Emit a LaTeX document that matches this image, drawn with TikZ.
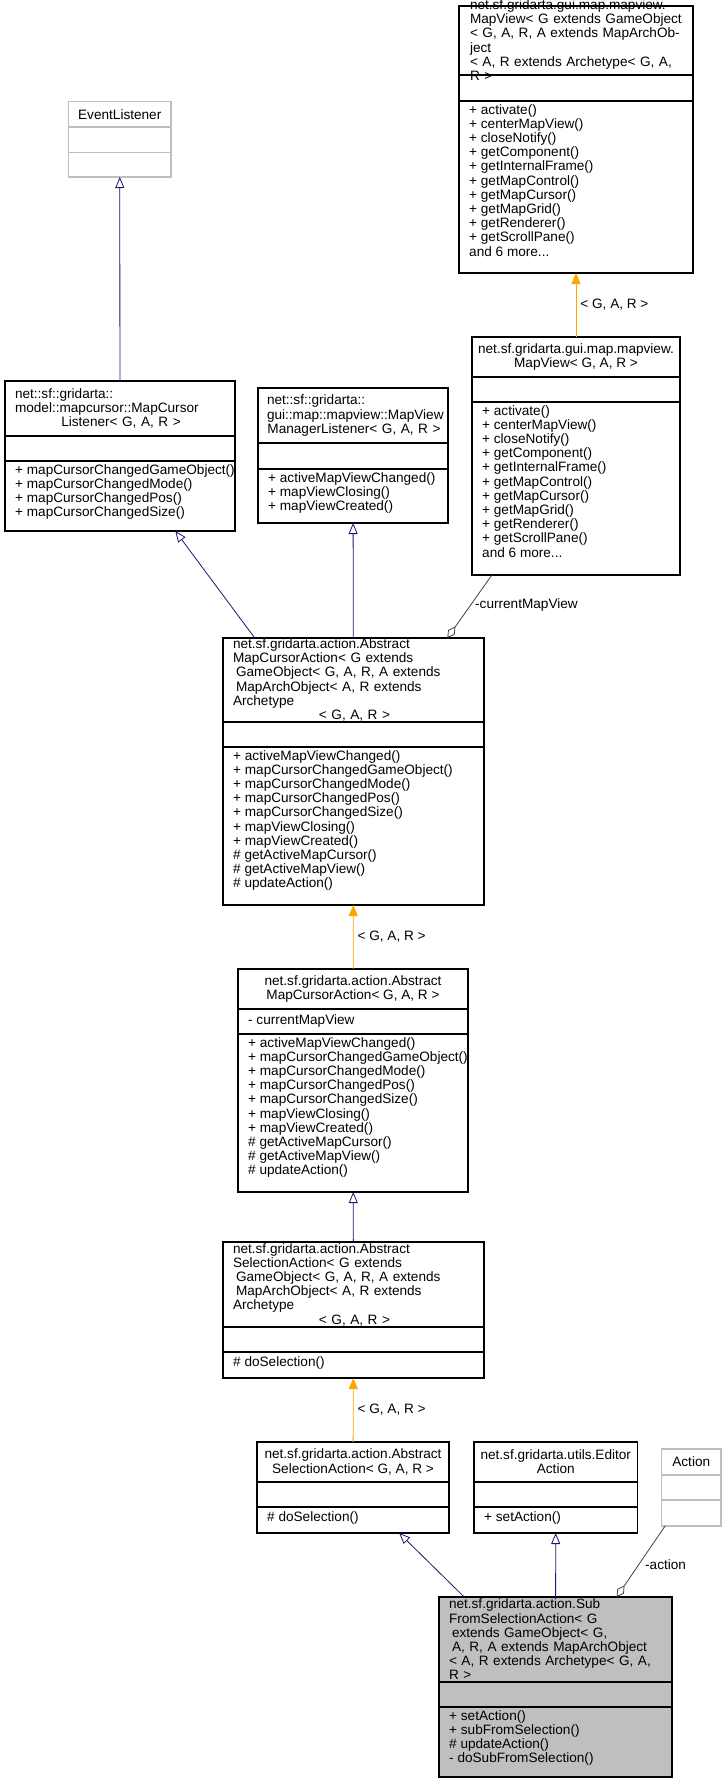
\documentclass[tikz,border=0pt]{standalone}
\usepackage{fontspec}
\setmainfont{Liberation Sans}
\usetikzlibrary{arrows.meta}
\definecolor{navy}{HTML}{191970}
\definecolor{orng}{HTML}{FFA500}
\definecolor{dgray}{HTML}{404040}
\definecolor{lgray}{HTML}{BFBFBF}
\newcommand\ctr[1]{\hbox to \linewidth{\hfil #1\hfil}}
\newcommand\ucls[8]{%
 \node[#8,inner sep=0,outer sep=0,minimum width={#4-#2},minimum height={#5-#3}] (#1) at ({(#2+#4)/2},{(#3+#5)/2}) {};
 \draw[#8,fill=none] (#2,#6) -- (#4,#6) (#2,#7) -- (#4,#7);}
\tikzset{
 txt/.style={font=\fontsize{13.6}{14.2}\selectfont,inner sep=0,align=left},
 ttl/.style={txt,anchor=center},
 mth/.style={txt,anchor=north west},
 normal/.style={draw=black,line width=1.1pt,fill=white},
 faint/.style={draw=lgray,line width=1.1pt,fill=white},
 focus/.style={draw=black,line width=1.1pt,fill=lgray},
 inh/.style={draw=navy,line width=0.8pt,-{Triangle[open,length=11,width=9,fill=white]}},
 tpl/.style={draw=orng,line width=0.8pt,-{Triangle[length=11,width=9]}},
 agg/.style={draw=dgray,line width=0.8pt,-{Diamond[open,length=14,width=8,fill=white]}},
 lbl/.style={font=\fontsize{13.6}{14.2}\selectfont,inner sep=0,anchor=west},
}
\begin{document}
\begin{tikzpicture}[x=1pt,y=-1pt]
\useasboundingbox (0,0) rectangle (722,1780);
% classes
\ucls{mvT}{459}{6}{693}{273}{75}{101}{normal}
\node[ttl,text width=216] at (578,40) {net.sf.gridarta.gui.map.mapview.\\MapView< G extends GameObject\\< G, A, R, A extends MapArchObject\\< A, R extends Archetype< G, A, R >};
\node[mth] at (469,104) {+ activate()\\+ centerMapView()\\+ closeNotify()\\+ getComponent()\\+ getInternalFrame()\\+ getMapControl()\\+ getMapCursor()\\+ getMapGrid()\\+ getRenderer()\\+ getScrollPane()\\and 6 more...};

\ucls{ev}{68.5}{101.5}{171}{177}{127}{152.5}{faint}
\node[ttl] at (119.75,114.5) {EventListener};

\ucls{mcl}{5}{381}{235}{531}{436}{461}{normal}
\node[ttl,text width=212] at (121,408.5) {net::sf::gridarta::\\model::mapcursor::MapCursor\\\ctr{Listener< G, A, R >}};
\node[mth] at (15,464) {+ mapCursorChangedGameObject()\\+ mapCursorChangedMode()\\+ mapCursorChangedPos()\\+ mapCursorChangedSize()};

\ucls{mvml}{258}{388}{448}{523}{443}{469}{normal}
\node[ttl,text width=174] at (354,415.5) {net::sf::gridarta::\\gui::map::mapview::MapView\\\ctr{ManagerListener< G, A, R >}};
\node[mth] at (268,472) {+ activeMapViewChanged()\\+ mapViewClosing()\\+ mapViewCreated()};

\ucls{mvS}{472}{337}{680}{575}{377}{402}{normal}
\node[ttl,align=center] at (576,357) {net.sf.gridarta.gui.map.mapview.\\MapView< G, A, R >};
\node[mth] at (482,405) {+ activate()\\+ centerMapView()\\+ closeNotify()\\+ getComponent()\\+ getInternalFrame()\\+ getMapControl()\\+ getMapCursor()\\+ getMapGrid()\\+ getRenderer()\\+ getScrollPane()\\and 6 more...};

\ucls{amB}{223}{638}{484}{905}{722}{747}{normal}
\node[ttl,text width=243] at (354.5,680) {net.sf.gridarta.action.Abstract\\MapCursorAction< G extends\\\hspace*{3pt}GameObject< G, A, R, A extends\\\hspace*{3pt}MapArchObject< A, R extends Archetype\\\ctr{< G, A, R >}};
\node[mth] at (233,750) {+ activeMapViewChanged()\\+ mapCursorChangedGameObject()\\+ mapCursorChangedMode()\\+ mapCursorChangedPos()\\+ mapCursorChangedSize()\\+ mapViewClosing()\\+ mapViewCreated()\\\# getActiveMapCursor()\\\# getActiveMapView()\\\# updateAction()};

\ucls{amS}{238}{969}{468}{1192}{1009}{1034}{normal}
\node[ttl,align=center] at (353,989) {net.sf.gridarta.action.Abstract\\MapCursorAction< G, A, R >};
\node[mth] at (248,1014) {- currentMapView};
\node[mth] at (248,1037) {+ activeMapViewChanged()\\+ mapCursorChangedGameObject()\\+ mapCursorChangedMode()\\+ mapCursorChangedPos()\\+ mapCursorChangedSize()\\+ mapViewClosing()\\+ mapViewCreated()\\\# getActiveMapCursor()\\\# getActiveMapView()\\\# updateAction()};

\ucls{asB}{223}{1242}{484}{1378}{1327}{1352}{normal}
\node[ttl,text width=243] at (354.5,1284.5) {net.sf.gridarta.action.Abstract\\SelectionAction< G extends\\\hspace*{3pt}GameObject< G, A, R, A extends\\\hspace*{3pt}MapArchObject< A, R extends Archetype\\\ctr{< G, A, R >}};
\node[mth] at (233,1356) {\# doSelection()};

\ucls{asS}{257}{1442}{449}{1533}{1482}{1507}{normal}
\node[ttl,align=center] at (353,1462) {net.sf.gridarta.action.Abstract\\SelectionAction< G, A, R >};
\node[mth] at (267,1511) {\# doSelection()};

\ucls{ea}{474}{1442}{637.5}{1533}{1482}{1507}{normal}
\node[ttl,align=center] at (555.75,1462) {net.sf.gridarta.utils.Editor\\Action};
\node[mth] at (484,1511) {+ setAction()};

\ucls{act}{661.5}{1449}{721}{1526}{1475}{1500}{faint}
\node[ttl] at (691.25,1462) {Action};

\ucls{sub}{439}{1597}{672}{1777}{1682}{1707}{focus}
\node[ttl,text width=215] at (556.5,1639.5) {net.sf.gridarta.action.Sub\\FromSelectionAction< G\\\hspace*{3pt}extends GameObject< G,\\\hspace*{3pt}A, R, A extends MapArchObject\\< A, R extends Archetype< G, A, R >};
\node[mth] at (449,1710) {+ setAction()\\+ subFromSelection()\\\# updateAction()\\- doSubFromSelection()};

% connectors
\draw[inh] (mcl) -- (ev);
\draw[inh] (amB) -- (mcl);
\draw[inh] (amB) -- (mvml);
\draw[tpl] (mvS) -- node[lbl,pos=0.5,xshift=4pt]{< G, A, R >} (mvT);
\draw[agg] (mvS) -- (amB);
\node[lbl] at (475,605) {-currentMapView};
\draw[tpl] (amS) -- node[lbl,xshift=4pt]{< G, A, R >} (amB);
\draw[inh] (asB) -- (amS);
\draw[tpl] (asS) -- node[lbl,xshift=4pt]{< G, A, R >} (asB);
\draw[inh] (sub) -- (asS);
\draw[inh] (sub) -- (ea);
\draw[agg] (act) -- (sub);
\node[lbl] at (645,1565) {-action};
\end{tikzpicture}
\end{document}
